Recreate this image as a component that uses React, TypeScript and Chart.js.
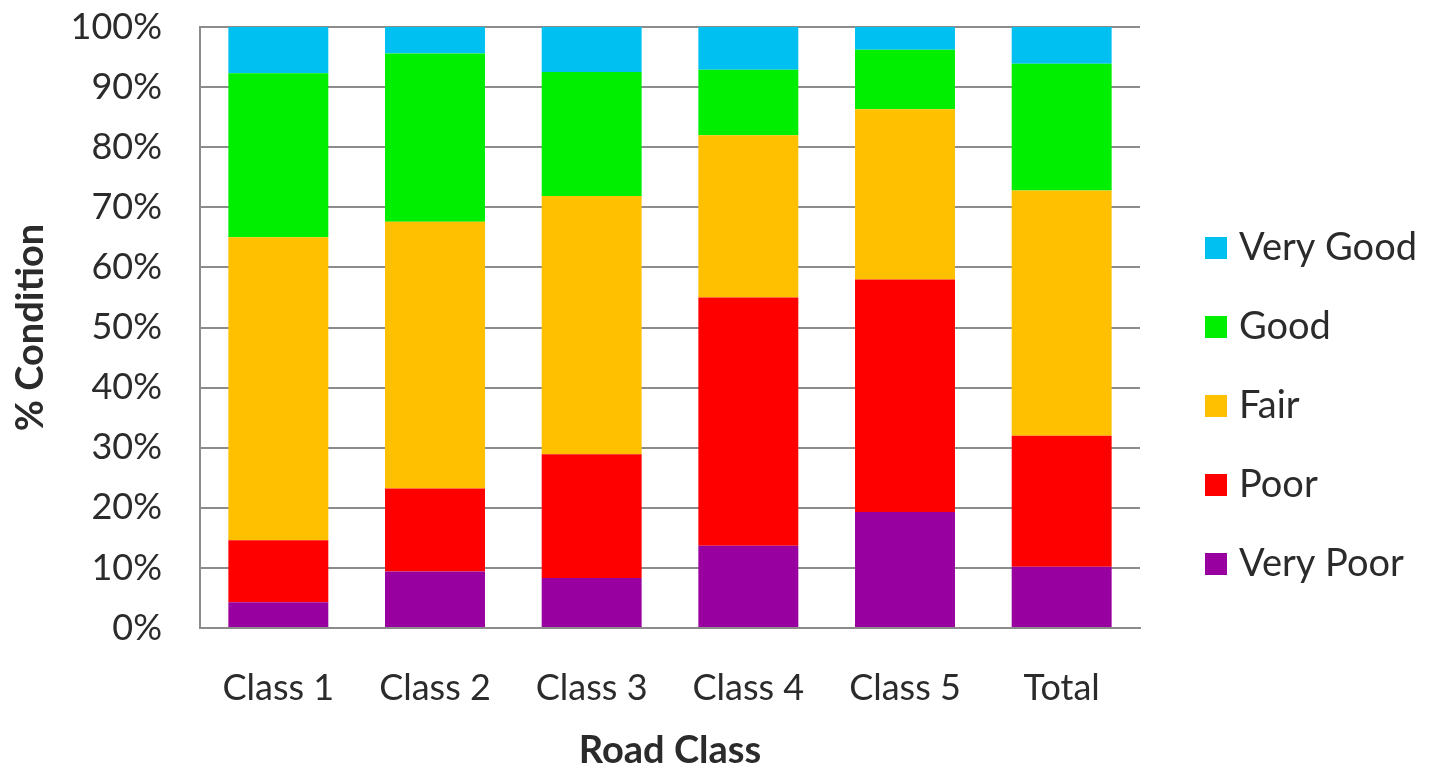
import React, { useEffect, useRef } from "react";
import { Chart, registerables } from "chart.js";

Chart.register(...registerables);

// Road condition share by road class (percent of network, stacked to 100%)
const categories = ["Class 1", "Class 2", "Class 3", "Class 4", "Class 5", "Total"];

const veryPoor = [4.3, 9.4, 8.3, 13.7, 19.3, 10.2];
const poor = [10.3, 13.8, 20.6, 41.3, 38.7, 21.8];
const fair = [50.4, 44.4, 43.0, 27.0, 28.3, 40.8];
const good = [27.3, 28.0, 20.6, 10.9, 9.9, 21.1];
const veryGood = [7.7, 4.4, 7.5, 7.1, 3.8, 6.1];

const yTicks = [0, 10, 20, 30, 40, 50, 60, 70, 80, 90, 100];

const FONT = "Lato, 'Open Sans', sans-serif";
const TEXT = "#2b2b2b";
const GRID = "#8c8c8c";

// Legend drawn at the right, top entry = top stack segment
const sideLegend = {
  id: "sideLegend",
  afterDraw(chart: any) {
    const { ctx, chartArea } = chart;
    const items = [...chart.data.datasets].reverse();
    const boxX = chartArea.right + 65;
    const box = 22;
    const firstY = 248;
    const step = 79;
    ctx.save();
    ctx.font = `38px ${FONT}`;
    ctx.textBaseline = "middle";
    ctx.textAlign = "left";
    items.forEach((ds: any, i: number) => {
      const cy = firstY + i * step;
      ctx.fillStyle = ds.backgroundColor;
      ctx.fillRect(boxX, cy - box / 2, box, box);
      ctx.fillStyle = TEXT;
      ctx.fillText(ds.label, boxX + box + 12, cy);
    });
    ctx.restore();
  },
};

export default function App() {
  const canvasRef = useRef<HTMLCanvasElement | null>(null);

  useEffect(() => {
    let chart: Chart | null = null;
    let cancelled = false;

    const build = () => {
      if (cancelled || !canvasRef.current) return;
      chart = new Chart(canvasRef.current, {
        type: "bar",
        data: {
          labels: categories,
          datasets: [
            { label: "Very Poor", data: veryPoor, backgroundColor: "#9900A0" },
            { label: "Poor", data: poor, backgroundColor: "#FF0000" },
            { label: "Fair", data: fair, backgroundColor: "#FFC000" },
            { label: "Good", data: good, backgroundColor: "#00EE00" },
            { label: "Very Good", data: veryGood, backgroundColor: "#00C0F2" },
          ],
        },
        options: {
          responsive: false,
          animation: false,
          events: [],
          layout: { padding: { top: 27, right: 289, left: 0, bottom: 0 } },
          datasets: {
            bar: { categoryPercentage: 1, barPercentage: 0.638, borderWidth: 0 },
          },
          plugins: {
            legend: { display: false },
            tooltip: { enabled: false },
          },
          scales: {
            x: {
              stacked: true,
              grid: { display: false, drawTicks: false },
              border: { display: true, color: GRID, width: 2 },
              ticks: {
                color: TEXT,
                font: { family: FONT, size: 36 },
                padding: 39,
                maxRotation: 0,
              },
              title: {
                display: true,
                text: "Road Class",
                color: TEXT,
                font: { family: FONT, size: 38, weight: "bold" },
                padding: { top: 0, bottom: 0 },
              },
              afterFit: (scale: any) => {
                scale.height = 146;
              },
            },
            y: {
              stacked: true,
              min: 0,
              max: 100,
              afterBuildTicks: (scale: any) => {
                scale.ticks = yTicks.map((v) => ({ value: v }));
              },
              grid: { color: GRID, lineWidth: 2, drawTicks: false },
              border: { display: true, color: GRID, width: 2 },
              ticks: {
                color: TEXT,
                font: { family: FONT, size: 36 },
                padding: 38,
                callback: (v: any) => `${v}%`,
              },
              title: {
                display: true,
                text: "% Condition",
                color: TEXT,
                font: { family: FONT, size: 38, weight: "bold" },
                padding: { top: 8, bottom: 0 },
              },
              afterFit: (scale: any) => {
                scale.width = 200;
                scale.paddingTop = 0;
                scale.paddingBottom = 0;
              },
            },
          },
        },
        plugins: [sideLegend],
      });
    };

    const fonts = (document as any).fonts;
    if (fonts && fonts.load) {
      Promise.all([
        fonts.load(`36px Lato`),
        fonts.load(`bold 38px Lato`),
      ]).then(build, build);
    } else {
      build();
    }

    return () => {
      cancelled = true;
      if (chart) chart.destroy();
    };
  }, []);

  return (
    <div
      style={{
        position: "fixed",
        left: 0,
        top: 0,
        width: 1429,
        height: 774,
        background: "#ffffff",
      }}
    >
      <canvas ref={canvasRef} width={1429} height={774} style={{ display: "block" }} />
    </div>
  );
}
